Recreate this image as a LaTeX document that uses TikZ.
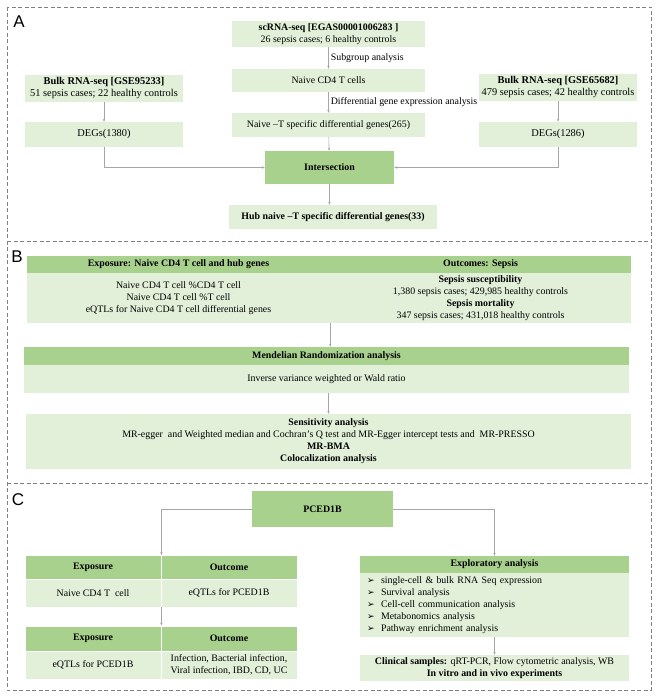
\documentclass[tikz,border=0pt]{standalone}
\usepackage{fontspec}
\setmainfont{Liberation Serif}
\newfontfamily\panelfont{Liberation Sans}
\newfontfamily\dejavu{DejaVu Sans}
\usetikzlibrary{arrows.meta,positioning,calc}
\definecolor{lightgreen}{HTML}{E2F0D9}
\definecolor{midgreen}{HTML}{A9D18E}
\definecolor{linegray}{HTML}{A6A6A6}
\definecolor{framegray}{HTML}{808080}
\newcommand{\bul}{\makebox[14pt][l]{{\dejavu\small ➢}}}

\begin{document}
\begin{tikzpicture}[x=1pt,y=-1pt,font=\fontsize{9.9}{12}\selectfont,
  light box/.style={rectangle,fill=lightgreen,inner sep=0pt,align=center},
  dark box/.style={rectangle,fill=midgreen,inner sep=0pt,align=center,font=\fontsize{9.9}{12}\selectfont\bfseries},
  cell/.style={draw=white,line width=0.8pt},
  panel/.style={draw=framegray,dash pattern=on 4pt off 2.5pt,line width=0.8pt},
  flow/.style={draw=linegray,line width=0.6pt,-{Stealth[length=3pt,width=2.4pt]}},
  step label/.style={right,inner sep=2pt}]
\useasboundingbox (0,0) rectangle (659,700);
% panels
\draw[panel] (7,7) rectangle (651,690);
\draw[panel] (7,241) -- (651,241);
\draw[panel] (7,483) -- (651,483);
\node[font=\panelfont\fontsize{17}{17}\selectfont] (la) at (19,22) {A};
\node[font=\panelfont\fontsize{17}{17}\selectfont] (lb) at (17,257) {B};
\node[font=\panelfont\fontsize{17}{17}\selectfont] (lc) at (18,500) {C};
% A
\begin{scope}
\node[light box,minimum width=193pt,minimum height=26pt] (sc) at (328.5,34) {\textbf{scRNA-seq [EGAS00001006283 ]}\\26 sepsis cases; 6 healthy controls};
\node[light box,minimum width=193pt,minimum height=23pt] (naive) at (328.5,80.5) {Naive CD4 T cells};
\node[light box,minimum width=193pt,minimum height=24pt] (nts) at (328.5,125) {Naive –T specific differential genes(265)};
\node[dark box,minimum width=129pt,minimum height=33pt] (inter) at (329.5,167.5) {Intersection};
\node[light box,minimum width=208pt,minimum height=24pt,font=\fontsize{9.9}{12}\selectfont\bfseries] (hub) at (333,217) {Hub naive –T specific differential genes(33)};
\node[light box,minimum width=158pt,minimum height=27pt,font=\fontsize{10.4}{12}\selectfont] (bulkL) at (104,88.5) {\textbf{Bulk RNA-seq [GSE95233]}\\51 sepsis cases; 22 healthy controls};
\node[light box,minimum width=158pt,minimum height=25pt,font=\fontsize{10.4}{12}\selectfont] (degL) at (104,134.5) {DEGs(1380)};
\node[light box,minimum width=158pt,minimum height=27pt,font=\fontsize{10.4}{12}\selectfont] (bulkR) at (558,87.5) {\textbf{Bulk RNA-seq [GSE65682]}\\479 sepsis cases; 42 healthy controls};
\node[light box,minimum width=158pt,minimum height=25pt,font=\fontsize{10.4}{12}\selectfont] (degR) at (558,134.5) {DEGs(1286)};
\end{scope}
\begin{scope}
\draw[flow] (sc) -- node[step label] {Subgroup analysis} (naive);
\draw[flow] (naive) -- node[step label] {Differential gene expression analysis} (nts);
\draw[flow] (nts) -- (inter);
\draw[flow] (inter) -- (inter |- hub.north);
\draw[flow] (bulkL) -- (degL);
\draw[flow] (degL) |- (inter);
\draw[flow] (bulkR) -- (degR);
\draw[flow] (degR) |- (inter);
\end{scope}
% B
\begin{scope}
\node[dark box,minimum width=303pt,minimum height=17pt] (expH) at (178.5,264.5) {Exposure: Naive CD4 T cell and hub genes};
\node[light box,minimum width=303pt,minimum height=50pt] (expB) at (178.5,298) {Naive CD4 T cell \%CD4 T cell\\Naive CD4 T cell \%T cell\\eQTLs for Naive CD4 T cell differential genes};
\node[dark box,minimum width=301pt,minimum height=17pt] (outH) at (480.5,264.5) {Outcomes: Sepsis};
\node[light box,minimum width=301pt,minimum height=50pt] (outB) at (480.5,298) {\textbf{Sepsis susceptibility}\\1,380 sepsis cases; 429,985 healthy controls\\\textbf{Sepsis mortality}\\347 sepsis cases; 431,018 healthy controls};
\node[dark box,minimum width=605pt,minimum height=18pt] (mrH) at (326.5,356) {Mendelian Randomization analysis};
\node[light box,minimum width=605pt,minimum height=28pt] (mrB) at (326.5,379) {Inverse variance weighted or Wald ratio};
\node[light box,minimum width=605pt,minimum height=55pt] (sens) at (328.5,441.5) {\textbf{Sensitivity analysis}\\MR-egger\ \ and Weighted median and Cochran’s Q test and MR-Egger intercept tests and\ \ MR-PRESSO\\\textbf{MR-BMA}\\\textbf{Colocalization analysis}};
\end{scope}
\begin{scope}
\draw[flow] (expB.south east) -- (expB.south east |- mrH.north);
\draw[flow] (sens.north |- mrB.south) -- (sens.north);
\end{scope}
% C
\begin{scope}
\node[dark box,minimum width=141pt,minimum height=36pt] (pced) at (322.5,509) {PCED1B};
\node[dark box,cell,minimum width=136pt,minimum height=24pt] (e1h) at (93,567.5) {Exposure};
\node[dark box,cell,minimum width=136pt,minimum height=24pt] (o1h) at (229,567.5) {Outcome};
\node[light box,cell,minimum width=136pt,minimum height=27.5pt] (e1b) at (93,593.25) {Naive CD4 T\ \ cell};
\node[light box,cell,minimum width=136pt,minimum height=27.5pt] (o1b) at (229,593.25) {eQTLs for PCED1B};
\node[dark box,cell,minimum width=136pt,minimum height=25pt] (e2h) at (93,638.5) {Exposure};
\node[dark box,cell,minimum width=136pt,minimum height=25pt] (o2h) at (229,638.5) {Outcome};
\node[light box,cell,minimum width=136pt,minimum height=28pt] (e2b) at (93,665) {eQTLs for PCED1B};
\node[light box,cell,minimum width=136pt,minimum height=28pt] (o2b) at (229,665) {Infection, Bacterial infection,\\Viral infection, IBD, CD, UC};
\node[dark box,minimum width=269pt,minimum height=17pt] (explH) at (494.5,564.5) {Exploratory analysis};
\node[light box,minimum width=269pt,minimum height=64pt,text width=255pt,align=left] (explB) at (494.5,605) {\bul single-cell \& bulk RNA Seq expression\\\bul Survival analysis\\\bul Cell-cell communication analysis\\\bul Metabonomics analysis\\\bul Pathway enrichment analysis};
\node[light box,minimum width=269pt,minimum height=26pt] (clin) at (494.5,668) {\textbf{Clinical samples:} qRT-PCR, Flow cytometric analysis, WB\\\textbf{In vitro and in vivo experiments}};
\end{scope}
\begin{scope}
\draw[flow] (pced) -| (e1h.north east);
\draw[flow] (e1b.south east) -- (e2h.north east);
\draw[flow] (pced) -| (explH);
\draw[flow] (explB) -- (clin);
\end{scope}
\end{tikzpicture}
\end{document}
